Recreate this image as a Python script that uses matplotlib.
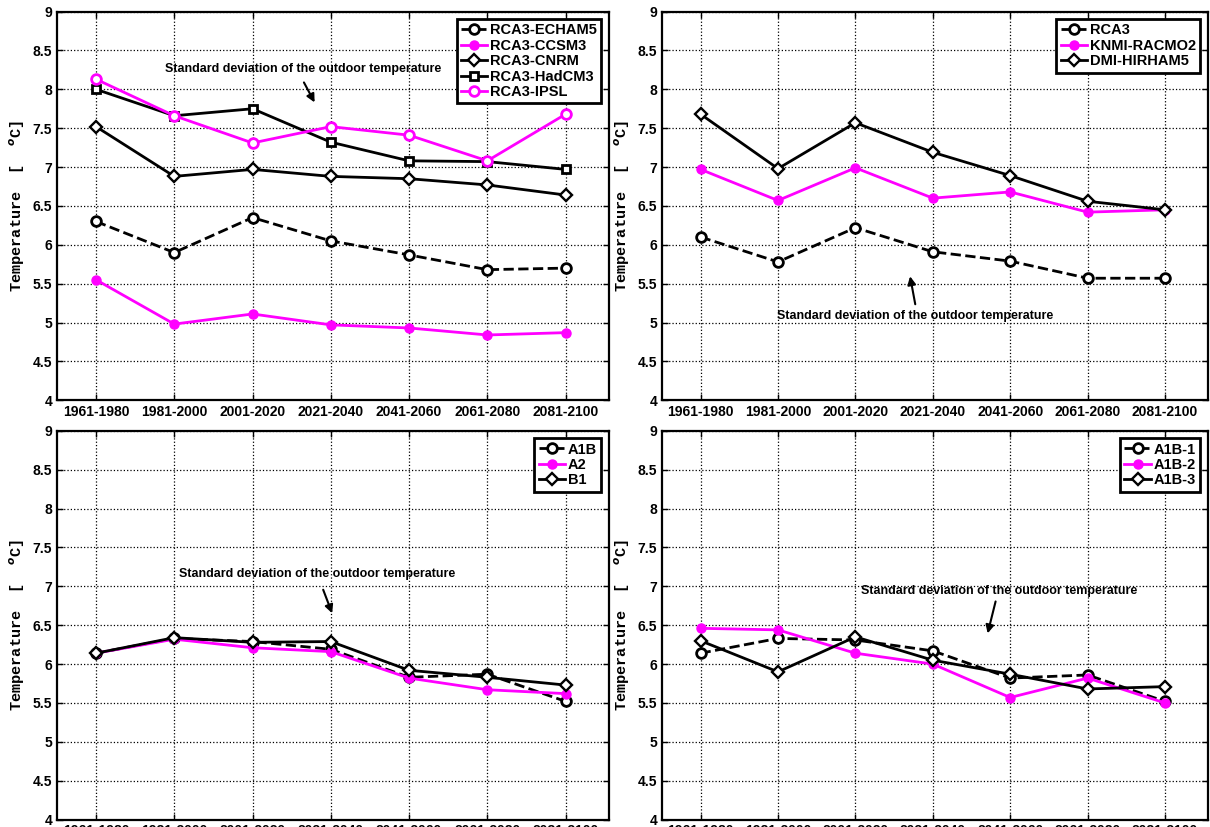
import numpy as np
import matplotlib
matplotlib.use('Agg')
import matplotlib.pyplot as plt

periods = ['1961-1980', '1981-2000', '2001-2020', '2021-2040',
           '2041-2060', '2061-2080', '2081-2100']

# Panel a: RCA3 driven by different GCMs
echam5 = [6.30, 5.90, 6.35, 6.05, 5.87, 5.68, 5.70]
ccsm3 = [5.55, 4.98, 5.11, 4.97, 4.93, 4.84, 4.87]
cnrm = [7.52, 6.88, 6.97, 6.88, 6.85, 6.77, 6.64]
hadcm3 = [8.00, 7.66, 7.75, 7.32, 7.08, 7.07, 6.97]
ipsl = [8.13, 7.66, 7.31, 7.52, 7.41, 7.08, 7.68]

# Panel b: different RCMs
rca3 = [6.10, 5.78, 6.22, 5.91, 5.79, 5.57, 5.57]
knmi = [6.97, 6.57, 6.99, 6.60, 6.68, 6.42, 6.45]
dmi = [7.68, 6.98, 7.57, 7.19, 6.89, 6.56, 6.45]

# Panel c: emission scenarios
a1b = [6.14, 6.33, 6.29, 6.19, 5.83, 5.87, 5.52]
a2 = [6.14, 6.32, 6.21, 6.16, 5.82, 5.67, 5.62]
b1 = [6.14, 6.34, 6.28, 6.29, 5.92, 5.83, 5.73]

# Panel d: A1B runs
a1b_1 = [6.14, 6.33, 6.31, 6.17, 5.82, 5.86, 5.52]
a1b_2 = [6.46, 6.44, 6.14, 6.00, 5.57, 5.82, 5.50]
a1b_3 = [6.30, 5.90, 6.35, 6.05, 5.87, 5.68, 5.71]

note = 'Standard deviation of the outdoor temperature'

plt.rcParams['font.family'] = ['Liberation Sans', 'DejaVu Sans']
plt.rcParams['font.weight'] = 'bold'
plt.rcParams['mathtext.fontset'] = 'custom'
plt.rcParams['mathtext.rm'] = 'Liberation Mono:bold'

MAG = '#ff00ff'
x = np.arange(len(periods))

styles = {
    'dash_circle': dict(color='black', ls='--', marker='o', mfc='white', mec='black', mew=2, ms=7),
    'mag_dot': dict(color=MAG, ls='-', marker='o', mfc=MAG, mec=MAG, ms=6.5),
    'diamond': dict(color='black', ls='-', marker='D', mfc='white', mec='black', mew=1.7, ms=6.5),
    'square': dict(color='black', ls='-', marker='s', mfc='white', mec='black', mew=2, ms=6),
    'mag_circle': dict(color=MAG, ls='-', marker='o', mfc='white', mec=MAG, mew=2, ms=7),
}


def setup_axes(ax):
    ax.set_xlim(-0.5, 6.55)
    ax.set_ylim(4, 9)
    ax.set_xticks(x)
    ax.set_xticklabels(periods)
    ax.set_yticks(np.arange(4, 9.01, 0.5))
    ax.set_yticklabels(['%g' % v for v in np.arange(4, 9.01, 0.5)])
    ax.grid(True, color='black', ls=':', lw=0.9)
    ax.tick_params(direction='in', top=True, right=True, labelsize=10, length=4, width=1)
    for s in ax.spines.values():
        s.set_linewidth(1.6)
    ax.set_ylabel(r'Temperature  [  $^{o}$C]', family='Liberation Mono',
                  fontsize=11, fontweight='bold', labelpad=4)


def draw_panel(ax, series, note_xy, arrow_from, arrow_to):
    for vals, label, key in series:
        ax.plot(x, vals, lw=2, label=label, **styles[key])
    setup_axes(ax)
    leg = ax.legend(loc='upper right', fontsize=10.5, handlelength=1.8, handletextpad=0.2,
                    borderpad=0.3, labelspacing=0.1, fancybox=False, framealpha=1,
                    edgecolor='black', borderaxespad=0.5)
    leg.get_frame().set_linewidth(2)
    ax.text(note_xy[0], note_xy[1], note, ha='center', va='center', fontsize=9,
            fontweight='bold')
    ax.annotate('', xy=arrow_to, xytext=arrow_from,
                arrowprops=dict(arrowstyle='-|>', color='black', lw=1.5, mutation_scale=12))


fig = plt.figure(figsize=(12.1, 8.27), dpi=100)
ax1 = fig.add_axes([0.047, 0.516, 0.456, 0.47])
ax2 = fig.add_axes([0.547, 0.516, 0.451, 0.47])
ax3 = fig.add_axes([0.047, 0.009, 0.456, 0.47])
ax4 = fig.add_axes([0.547, 0.009, 0.451, 0.47])

draw_panel(ax1, [(echam5, 'RCA3-ECHAM5', 'dash_circle'),
                 (ccsm3, 'RCA3-CCSM3', 'mag_dot'),
                 (cnrm, 'RCA3-CNRM', 'diamond'),
                 (hadcm3, 'RCA3-HadCM3', 'square'),
                 (ipsl, 'RCA3-IPSL', 'mag_circle')],
           (2.65, 8.26), (2.64, 8.12), (2.81, 7.8))

draw_panel(ax2, [(rca3, 'RCA3', 'dash_circle'),
                 (knmi, 'KNMI-RACMO2', 'mag_dot'),
                 (dmi, 'DMI-HIRHAM5', 'diamond')],
           (2.77, 5.08), (2.78, 5.2), (2.7, 5.63))

draw_panel(ax3, [(a1b, 'A1B', 'dash_circle'),
                 (a2, 'A2', 'mag_dot'),
                 (b1, 'B1', 'diamond')],
           (2.83, 7.16), (2.89, 6.99), (3.03, 6.62))

draw_panel(ax4, [(a1b_1, 'A1B-1', 'dash_circle'),
                 (a1b_2, 'A1B-2', 'mag_dot'),
                 (a1b_3, 'A1B-3', 'diamond')],
           (3.86, 6.94), (3.82, 6.84), (3.70, 6.36))

fig.savefig('out.png', dpi=100)
